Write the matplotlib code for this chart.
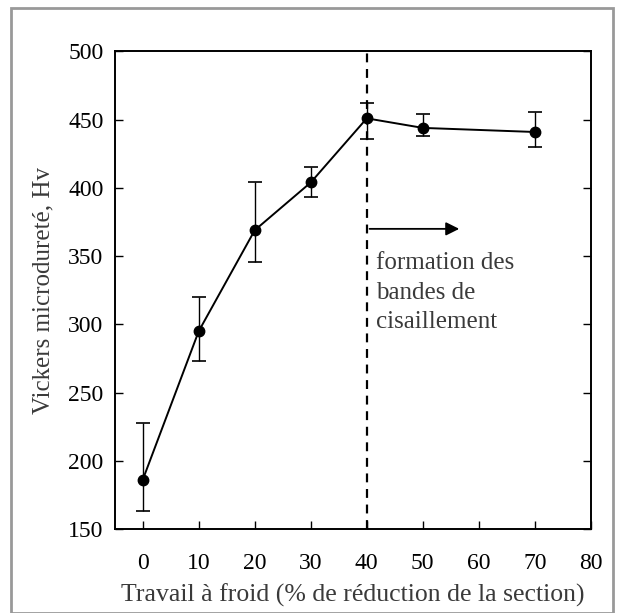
import matplotlib
matplotlib.use("Agg")
import matplotlib.pyplot as plt
from matplotlib.patches import Rectangle

# Data
travail = [0, 10, 20, 30, 40, 50, 70]
durete = [186, 295, 369, 404, 451, 444, 441]
err_haut = [228, 320, 404, 415, 462, 454, 456]
err_bas = [163, 273, 346, 393, 436, 438, 430]

x_ticks = [0, 10, 20, 30, 40, 50, 60, 70, 80]
y_ticks = [150, 200, 250, 300, 350, 400, 450, 500]

plt.rcParams['font.family'] = ['Liberation Serif', 'DejaVu Serif']

fig = plt.figure(figsize=(6.2, 6.13), dpi=100)
ax = fig.add_axes([0.185, 0.137, 0.768, 0.779])

yerr = [[d - b for d, b in zip(durete, err_bas)],
        [h - d for d, h in zip(durete, err_haut)]]
ax.errorbar(travail, durete, yerr=yerr, color='black', marker='o', markersize=7.5,
            linewidth=1.4, elinewidth=1.0, capsize=5, capthick=1.2)

ax.axvline(40, color='black', linestyle=(0, (4, 3)), linewidth=1.6)
ax.annotate('', xy=(57, 370), xytext=(40, 370),
            arrowprops=dict(arrowstyle='-|>', color='black', lw=1.3, mutation_scale=20))
ax.text(41.6, 353, 'formation des\nbandes de\ncisaillement', fontsize=18,
        va='top', ha='left', color='#3a3a3a', linespacing=1.45)

ax.set_xlim(-5, 80)
ax.set_ylim(150, 500)
ax.set_xticks(x_ticks)
ax.set_yticks(y_ticks)
ax.tick_params(direction='in', length=6, width=1.0, labelsize=17, right=True, top=False, pad=8)
ax.tick_params(axis='x', pad=17)
for s in ax.spines.values():
    s.set_linewidth(1.4)

ax.set_xlabel('Travail à froid (% de réduction de la section)', fontsize=18.5, color='#3a3a3a', labelpad=7)
ax.set_ylabel('Vickers microdureté, Hv', fontsize=18, color='#3a3a3a', labelpad=10)

fig.patches.append(Rectangle((0.018, 0.0), 0.97, 0.987, transform=fig.transFigure,
                             fill=False, edgecolor='#999999', linewidth=2))

fig.savefig('out.png', dpi=100)
